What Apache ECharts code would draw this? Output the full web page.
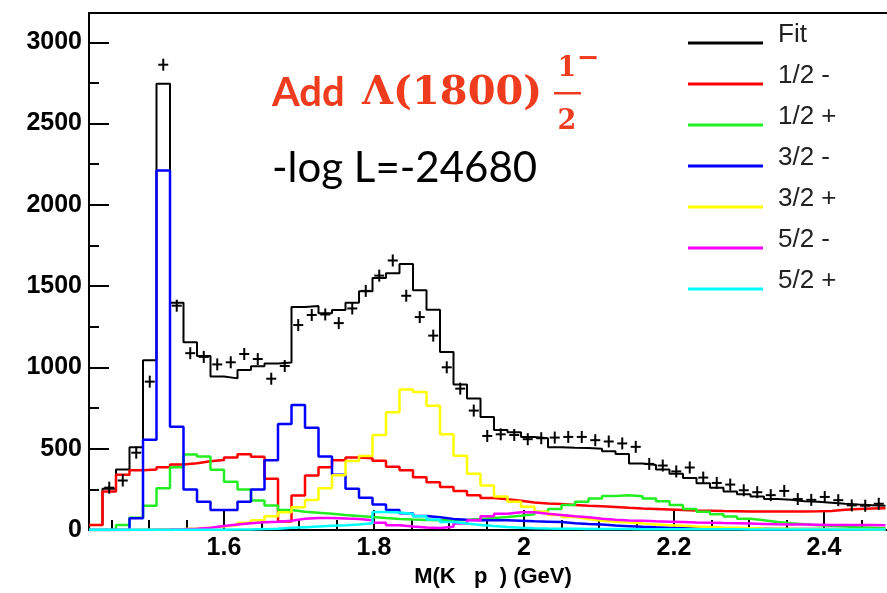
<!DOCTYPE html>
<html>
<head>
<meta charset="utf-8">
<script src="https://cdn.jsdelivr.net/npm/echarts@6.0.0/dist/echarts.min.js"></script>
<style>
html, body { margin: 0; padding: 0; background: #fff; }
#main { width: 887px; height: 593px; }
</style>
</head>
<body>
<div id="main"></div>
<script>
// binning of M(K-p), GeV
var xMin = 1.42;
var xMax = 2.484;
var binWidth = 0.018;

// fit and partial waves, one value per bin
var fitValues = [32, 255, 372, 510, 1044, 2745, 1398, 1155, 1070, 945,
    933, 984, 1008, 1024, 1030, 1372, 1378, 1334, 1354, 1398,
    1469, 1550, 1580, 1637, 1475, 1355, 1095, 895, 810, 695,
    615, 602, 573, 565, 510, 507, 505, 500, 485, 468,
    410, 400, 372, 346, 320, 288, 260, 238, 220, 206,
    191, 187, 177, 174, 168, 162, 157, 153, 149, 147];
var halfMinus = [32, 238, 340, 368, 372, 387, 403, 411, 423, 431,
    447, 467, 451, 316, 53, 213, 336, 387, 429, 447,
    442, 427, 390, 368, 325, 295, 265, 240, 215, 198,
    190, 180, 170, 164, 160, 155, 150, 146, 142, 137,
    133, 130, 127, 124, 121, 119, 117, 116, 115, 115,
    115, 115, 115, 116, 118, 125, 130, 133, 135, 135];
var halfPlus = [0, 0, 32, 76, 150, 258, 387, 465, 452, 371,
    298, 250, 182, 152, 123, 113, 106, 100, 93, 87,
    80, 74, 69, 65, 62, 60, 60, 62, 68, 75,
    80, 88, 98, 112, 130, 155, 175, 195, 210, 215,
    208, 195, 178, 155, 130, 113, 98, 83, 70, 60,
    50, 42, 36, 30, 26, 22, 18, 15, 12, 10];
var threeHalfMinus = [0, 0, 0, 73, 555, 2212, 636, 250, 175, 123,
    123, 174, 249, 429, 652, 770, 630, 452, 341, 255,
    199, 157, 123, 103, 87, 79, 69, 63, 60, 60,
    60, 58, 54, 52, 50, 42, 38, 35, 28, 24,
    20, 17, 15, 13, 12, 11, 10, 9, 8, 8,
    7, 7, 6, 6, 6, 5, 5, 5, 5, 5];
var threeHalfPlus = [0, 0, 1, 2, 3, 5, 7, 10, 15, 22,
    32, 45, 60, 85, 110, 140, 185, 258, 338, 425,
    455, 585, 725, 865, 850, 765, 590, 457, 346, 275,
    206, 174, 144, 113, 93, 80, 68, 58, 52, 46,
    40, 35, 30, 26, 22, 19, 16, 14, 12, 10,
    9, 8, 7, 6, 6, 5, 5, 4, 4, 4];
var fiveHalfMinus = [0, 0, 0, 1, 2, 3, 5, 8, 15, 25,
    35, 42, 48, 52, 58, 70, 75, 75, 72, 68,
    60, 45, 30, 22, 16, 13, 20, 40, 60, 85,
    100, 110, 110, 100, 93, 85, 79, 70, 63, 59,
    57, 54, 52, 50, 47, 45, 43, 42, 40, 38,
    36, 35, 34, 33, 32, 32, 31, 31, 30, 30];
var fiveHalfPlus = [2, 2, 2, 2, 2, 2, 2, 2, 2, 2,
    3, 4, 6, 9, 14, 18, 22, 26, 30, 35,
    42, 112, 108, 100, 85, 65, 50, 40, 32, 25,
    19, 15, 12, 10, 9, 8, 7, 7, 6, 6,
    5, 5, 5, 5, 5, 5, 5, 5, 4, 4,
    4, 4, 4, 4, 4, 4, 4, 4, 4, 4];

// measured events per bin (null = not visible)
var dataValues = [null, 261, 305, 476, 913, 2862, 1380, 1088, 1065, 1019,
    1032, 1083, 1052, 931, 1009, 1261, 1323, 1326, 1273, 1363,
    1471, 1565, 1658, 1441, 1310, 1196, 1001, 870, 735, 579,
    589, 585, 559, 565, 569, 573, 573, 553, 545, 533,
    512, 407, 397, 361, 385, 323, 290, 280, 245, 233,
    215, 241, 191, 186, 204, 184, 152, 150, 162, null];

// axis ticks
var xTickValues = [1.6, 1.8, 2, 2.2, 2.4];
var xMinorTickValues = [1.45, 1.5, 1.55, 1.6, 1.65, 1.7, 1.75, 1.8, 1.85, 1.9, 1.95, 2,
    2.05, 2.1, 2.15, 2.2, 2.25, 2.3, 2.35, 2.4, 2.45];
var yTickValues = [0, 500, 1000, 1500, 2000, 2500, 3000];
var yMinorTickValues = [250, 750, 1250, 1750, 2250, 2750];
var yMax = 3180;

var waveNames = ['Fit', '1/2 -', '1/2 +', '3/2 -', '3/2 +', '5/2 -', '5/2 +'];
var waveValues = [fitValues, halfMinus, halfPlus, threeHalfMinus, threeHalfPlus, fiveHalfMinus, fiveHalfPlus];
var waveColors = ['#000000', '#ff0000', '#22ee22', '#0000ff', '#ffff00', '#ff00ff', '#00ffff'];

var RED_TEXT = '#f03c1e';
var LABEL_FONT = 'Liberation Sans, Arial, sans-serif';
// legend sample: a bar at the bottom of a taller box, so the text sits above the line
var LEGEND_ICON = 'path://M0,0L75,0L75,0Z M0,16L75,16L75,19L0,19Z';

// histogram as left-edge steps
function toSteps(values) {
    var pts = [];
    for (var i = 0; i < values.length; i++) {
        pts.push([xMin + i * binWidth, values[i]]);
    }
    return pts;
}

function toPoints(values) {
    var pts = [];
    for (var i = 0; i < values.length; i++) {
        if (values[i] == null) continue;
        pts.push([xMin + (i + 0.5) * binWidth, values[i]]);
    }
    return pts;
}

var series = [];
for (var s = 0; s < waveNames.length; s++) {
    series.push({
        name: waveNames[s],
        type: 'line',
        step: 'end',
        symbol: 'none',
        xAxisIndex: 0,
        yAxisIndex: 0,
        data: toSteps(waveValues[s]),
        lineStyle: { color: waveColors[s], width: s == 0 ? 2 : 2.5 },
        itemStyle: { color: waveColors[s] },
        z: 2 + s
    });
}

// data points drawn as small crosses
series.push({
    name: 'Data',
    type: 'custom',
    xAxisIndex: 0,
    yAxisIndex: 0,
    clip: true,
    z: 20,
    data: toPoints(dataValues),
    renderItem: function(params, api) {
        var p = api.coord([api.value(0), api.value(1)]);
        var st = { stroke: '#000', lineWidth: 2 };
        return {
            type: 'group',
            children: [
                { type: 'line', shape: { x1: p[0] - 5, y1: p[1], x2: p[0] + 5, y2: p[1] }, style: st },
                { type: 'line', shape: { x1: p[0], y1: p[1] - 6, x2: p[0], y2: p[1] + 6 }, style: st }
            ]
        };
    }
});

var chart = echarts.init(document.getElementById('main'), null, { renderer: 'canvas' });

var option = {
    animation: false,
    backgroundColor: '#ffffff',
    grid: { left: 89, right: 0, top: 13, bottom: 56, containLabel: false },
    legend: {
        data: waveNames,
        orient: 'vertical',
        left: 688,
        top: 22,
        padding: 0,
        itemGap: 15,
        itemWidth: 75,
        itemHeight: 19,
        icon: LEGEND_ICON,
        selectedMode: false,
        textStyle: {
            fontFamily: LABEL_FONT,
            fontSize: 26,
            color: '#222',
            padding: [0, 0, 0, 10]
        }
    },
    xAxis: [{
        type: 'value',
        min: xMin,
        max: xMax,
        position: 'bottom',
        name: 'M(K   p  ) (GeV)',
        nameLocation: 'middle',
        nameGap: 32,
        nameTextStyle: {
            fontFamily: LABEL_FONT,
            fontWeight: 'bold',
            fontSize: 22,
            color: '#000',
            padding: [0, 0, 0, 10]
        },
        axisLine: { show: true, lineStyle: { color: '#000', width: 2 } },
        axisTick: { show: true, inside: true, length: 20, customValues: xTickValues, lineStyle: { color: '#000', width: 2 } },
        axisLabel: {
            customValues: xTickValues,
            margin: 6,
            fontFamily: LABEL_FONT,
            fontWeight: 'bold',
            fontSize: 25,
            color: '#000',
            formatter: function(v) { return String(v); }
        },
        splitLine: { show: false }
    }, {
        type: 'value',
        min: xMin,
        max: xMax,
        position: 'bottom',
        axisLine: { show: false },
        axisTick: { show: true, inside: true, length: 10, customValues: xMinorTickValues, lineStyle: { color: '#000', width: 2 } },
        axisLabel: { show: false },
        splitLine: { show: false }
    }, {
        type: 'value',
        min: xMin,
        max: xMax,
        position: 'top',
        axisLine: { show: true, lineStyle: { color: '#000', width: 2 } },
        axisTick: { show: false },
        axisLabel: { show: false },
        splitLine: { show: false }
    }],
    yAxis: [{
        type: 'value',
        min: 0,
        max: yMax,
        position: 'left',
        axisLine: { show: true, lineStyle: { color: '#000', width: 2 } },
        axisTick: { show: true, inside: true, length: 20, customValues: yTickValues, lineStyle: { color: '#000', width: 2 } },
        axisLabel: {
            customValues: yTickValues,
            margin: 7,
            fontFamily: LABEL_FONT,
            fontWeight: 'bold',
            fontSize: 25,
            color: '#000',
            formatter: function(v) { return String(v); }
        },
        splitLine: { show: false }
    }, {
        type: 'value',
        min: 0,
        max: yMax,
        position: 'left',
        axisLine: { show: false },
        axisTick: { show: true, inside: true, length: 10, customValues: yMinorTickValues, lineStyle: { color: '#000', width: 2 } },
        axisLabel: { show: false },
        splitLine: { show: false }
    }],
    graphic: [
        { type: 'text', x: 272, y: 93, style: { text: 'Add', font: 'bold 40px Lato, sans-serif', fill: RED_TEXT, align: 'left', verticalAlign: 'middle' } },
        { type: 'text', x: 362, y: 94, style: { text: 'Λ(1800)', font: 'bold 40px "DejaVu Serif", serif', fill: RED_TEXT, align: 'left', verticalAlign: 'middle' } },
        { type: 'text', x: 567, y: 69, style: { text: '1', font: 'bold 27px "DejaVu Serif", serif', fill: RED_TEXT, align: 'center', verticalAlign: 'middle' } },
        { type: 'rect', shape: { x: 554, y: 92, width: 27, height: 2.5 }, style: { fill: RED_TEXT } },
        { type: 'text', x: 567, y: 122, style: { text: '2', font: 'bold 27px "DejaVu Serif", serif', fill: RED_TEXT, align: 'center', verticalAlign: 'middle' } },
        { type: 'text', x: 588, y: 59, style: { text: '\u2212', font: 'bold 27px "DejaVu Serif", serif', fill: RED_TEXT, align: 'center', verticalAlign: 'middle' } },
        { type: 'text', x: 272, y: 168, style: { text: '-log L=-24680', font: '42px Lato, sans-serif', fill: '#000', align: 'left', verticalAlign: 'middle' } }
    ],
    series: series
};

chart.setOption(option);
</script>
</body>
</html>
